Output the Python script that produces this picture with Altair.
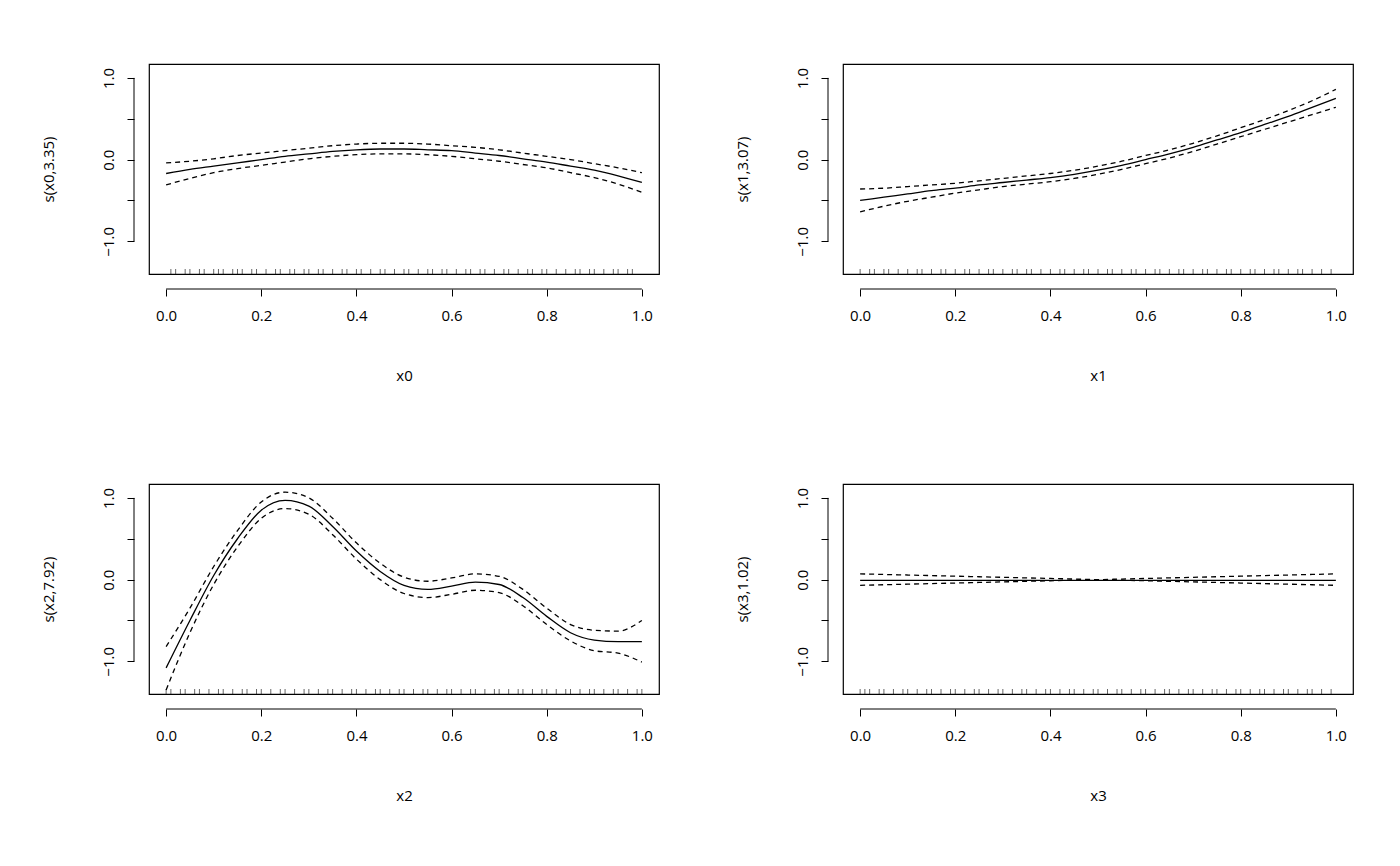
import altair as alt
import pandas as pd

xs = [0.0, 0.05, 0.1, 0.15, 0.2, 0.25, 0.3, 0.35, 0.4, 0.45, 0.5,
      0.55, 0.6, 0.65, 0.7, 0.75, 0.8, 0.85, 0.9, 0.95, 1.0]

fit0 = [-0.17, -0.12, -0.08, -0.04, 0.0, 0.04, 0.07, 0.10, 0.12, 0.13, 0.13,
        0.12, 0.11, 0.08, 0.05, 0.01, -0.03, -0.08, -0.13, -0.20, -0.28]
up0 = [-0.04, -0.02, 0.01, 0.05, 0.08, 0.11, 0.14, 0.17, 0.19, 0.20, 0.20,
       0.19, 0.17, 0.15, 0.12, 0.08, 0.04, 0.00, -0.05, -0.10, -0.16]
lo0 = [-0.31, -0.23, -0.16, -0.11, -0.07, -0.03, 0.01, 0.04, 0.06, 0.07, 0.07,
       0.06, 0.04, 0.01, -0.02, -0.06, -0.10, -0.16, -0.22, -0.30, -0.40]

fit1 = [-0.50, -0.46, -0.42, -0.38, -0.35, -0.31, -0.28, -0.25, -0.22, -0.18, -0.13,
        -0.07, 0.00, 0.07, 0.15, 0.24, 0.33, 0.43, 0.53, 0.64, 0.75]
up1 = [-0.36, -0.35, -0.33, -0.31, -0.29, -0.26, -0.23, -0.20, -0.17, -0.13, -0.08,
       -0.02, 0.05, 0.12, 0.20, 0.29, 0.39, 0.49, 0.60, 0.72, 0.86]
lo1 = [-0.64, -0.57, -0.51, -0.46, -0.41, -0.37, -0.33, -0.30, -0.27, -0.23, -0.18,
       -0.12, -0.05, 0.02, 0.10, 0.19, 0.28, 0.37, 0.46, 0.55, 0.64]

fit2 = [-1.08, -0.50, 0.05, 0.50, 0.85, 0.97, 0.90, 0.65, 0.35, 0.10, -0.07,
        -0.12, -0.08, -0.03, -0.06, -0.22, -0.45, -0.65, -0.74, -0.76, -0.76]
up2 = [-0.82, -0.35, 0.16, 0.60, 0.95, 1.07, 1.00, 0.75, 0.45, 0.20, 0.03,
       -0.02, 0.02, 0.07, 0.04, -0.12, -0.35, -0.55, -0.62, -0.63, -0.50]
lo2 = [-1.35, -0.65, -0.06, 0.40, 0.75, 0.87, 0.80, 0.55, 0.25, 0.00, -0.17,
       -0.22, -0.18, -0.13, -0.16, -0.32, -0.55, -0.75, -0.87, -0.90, -1.01]

fit3 = [-0.01] * 21
up3 = [0.07, 0.063, 0.056, 0.049, 0.042, 0.035, 0.028, 0.021, 0.014, 0.007, 0.0,
       0.007, 0.014, 0.021, 0.028, 0.035, 0.042, 0.049, 0.056, 0.063, 0.07]
lo3 = [-0.07, -0.063, -0.056, -0.049, -0.042, -0.035, -0.028, -0.021, -0.014, -0.007, 0.0,
       -0.007, -0.014, -0.021, -0.028, -0.035, -0.042, -0.049, -0.056, -0.063, -0.07]

rug0 = [0.01, 0.02, 0.04, 0.05, 0.07, 0.08, 0.1, 0.11, 0.12, 0.14, 0.15, 0.16, 0.18, 0.19,
        0.21, 0.23, 0.24, 0.26, 0.27, 0.29, 0.3, 0.32, 0.33, 0.35, 0.37, 0.38, 0.4, 0.41,
        0.43, 0.45, 0.46, 0.48, 0.5, 0.51, 0.53, 0.55, 0.56, 0.58, 0.59, 0.61, 0.63, 0.64,
        0.66, 0.67, 0.69, 0.71, 0.72, 0.74, 0.76, 0.77, 0.79, 0.8, 0.82, 0.84, 0.86, 0.87,
        0.89, 0.9, 0.92, 0.94, 0.95, 0.97, 0.98]
rug1 = [0.0, 0.02, 0.03, 0.05, 0.06, 0.08, 0.1, 0.12, 0.13, 0.15, 0.17, 0.18, 0.2, 0.22,
        0.23, 0.25, 0.27, 0.28, 0.3, 0.32, 0.33, 0.35, 0.36, 0.38, 0.4, 0.42, 0.43, 0.45,
        0.47, 0.48, 0.5, 0.52, 0.53, 0.55, 0.57, 0.58, 0.6, 0.62, 0.63, 0.65, 0.67, 0.68,
        0.7, 0.72, 0.73, 0.75, 0.77, 0.78, 0.8, 0.82, 0.83, 0.85, 0.87, 0.88, 0.9, 0.92,
        0.93, 0.95, 0.97, 0.99]
rug2 = [0.0, 0.01, 0.03, 0.04, 0.06, 0.07, 0.09, 0.11, 0.12, 0.14, 0.16, 0.17, 0.19, 0.2,
        0.22, 0.24, 0.25, 0.27, 0.29, 0.3, 0.32, 0.34, 0.35, 0.37, 0.39, 0.4, 0.42, 0.44,
        0.45, 0.47, 0.49, 0.5, 0.52, 0.54, 0.55, 0.57, 0.59, 0.6, 0.62, 0.64, 0.65, 0.67,
        0.69, 0.7, 0.72, 0.74, 0.75, 0.77, 0.79, 0.8, 0.82, 0.84, 0.85, 0.87, 0.89, 0.9,
        0.92, 0.94, 0.95, 0.97, 0.99, 1.0]
rug3 = [0.0, 0.01, 0.02, 0.04, 0.05, 0.07, 0.09, 0.1, 0.12, 0.14, 0.15, 0.17, 0.19, 0.2,
        0.22, 0.24, 0.25, 0.27, 0.29, 0.3, 0.32, 0.34, 0.35, 0.37, 0.39, 0.4, 0.42, 0.44,
        0.45, 0.47, 0.49, 0.5, 0.52, 0.54, 0.55, 0.57, 0.59, 0.6, 0.62, 0.64, 0.65, 0.67,
        0.69, 0.7, 0.72, 0.74, 0.75, 0.77, 0.79, 0.8, 0.82, 0.84, 0.85, 0.87, 0.89, 0.9,
        0.92, 0.94, 0.95, 0.97, 0.99]

ylabels = ["s(x0,3.35)", "s(x1,3.07)", "s(x2,7.92)", "s(x3,1.02)"]
xlabels = ["x0", "x1", "x2", "x3"]
FONT = "Open Sans"

xscale = alt.Scale(domain=[-0.036, 1.036], nice=False, zero=False)
yscale = alt.Scale(domain=[-1.40, 1.17], nice=False, zero=False)


def panel(fit, up, lo, rug, ylab, xlab):
    df = pd.DataFrame({"x": xs, "fit": fit, "up": up, "lo": lo})
    base = alt.Chart(df)
    xaxis = alt.Axis(values=[0, 0.2, 0.4, 0.6, 0.8, 1.0], format=".1f", offset=15,
                     domain=False, tickSize=7, grid=False, labelPadding=12,
                     titlePadding=45)
    yaxis = alt.Axis(values=[-1, -0.5, 0, 0.5, 1], offset=15, domain=False, tickSize=7,
                     grid=False, labelAngle=-90, labelAlign="center", labelBaseline="bottom",
                     labelPadding=11, titlePadding=45,
                     labelExpr="abs(datum.value % 1) < 0.001 ? format(datum.value, '.1f') : ''")
    fitl = base.mark_line(color="black", strokeWidth=1.3, interpolate="monotone").encode(
        x=alt.X("x:Q", scale=xscale, axis=xaxis, title=xlab),
        y=alt.Y("fit:Q", scale=yscale, axis=yaxis, title=ylab))
    upl = base.mark_line(color="black", strokeWidth=1.3, strokeDash=[5, 4],
                         interpolate="monotone").encode(
        x=alt.X("x:Q", scale=xscale), y=alt.Y("up:Q", scale=yscale))
    lol = base.mark_line(color="black", strokeWidth=1.3, strokeDash=[5, 4],
                         interpolate="monotone").encode(
        x=alt.X("x:Q", scale=xscale), y=alt.Y("lo:Q", scale=yscale))
    rugs = alt.Chart(pd.DataFrame({"r": rug})).mark_rule(color="black", strokeWidth=0.6).encode(
        x=alt.X("r:Q", scale=xscale), y=alt.value(205), y2=alt.value(210))
    xline = alt.Chart(pd.DataFrame({"a": [0.0], "b": [1.0]})).mark_rule(color="black").encode(
        x=alt.X("a:Q", scale=xscale), x2="b:Q", y=alt.value(225))
    yline = alt.Chart(pd.DataFrame({"a": [-1.0], "b": [1.0]})).mark_rule(color="black").encode(
        y=alt.Y("a:Q", scale=yscale), y2="b:Q", x=alt.value(-15))
    return alt.layer(rugs, lol, upl, fitl, xline, yline).properties(width=510, height=210)


p = [panel(fit0, up0, lo0, rug0, ylabels[0], xlabels[0]),
     panel(fit1, up1, lo1, rug1, ylabels[1], xlabels[1]),
     panel(fit2, up2, lo2, rug2, ylabels[2], xlabels[2]),
     panel(fit3, up3, lo3, rug3, ylabels[3], xlabels[3])]

chart = alt.vconcat(
    alt.hconcat(p[0], p[1], spacing=74),
    alt.hconcat(p[2], p[3], spacing=74),
    spacing=99,
).properties(
    padding={"left": 32, "top": 55, "right": 5, "bottom": 5},
    background="white"
).configure_view(
    stroke="black", strokeWidth=1.2
).configure_axis(
    labelFont=FONT, titleFont=FONT, labelFontSize=15, titleFontSize=15,
    titleFontWeight="normal", labelColor="black", titleColor="black",
    tickColor="black", labelOverlap=False
)

chart.save("out.html", embed_options={"renderer": "svg", "actions": False})
